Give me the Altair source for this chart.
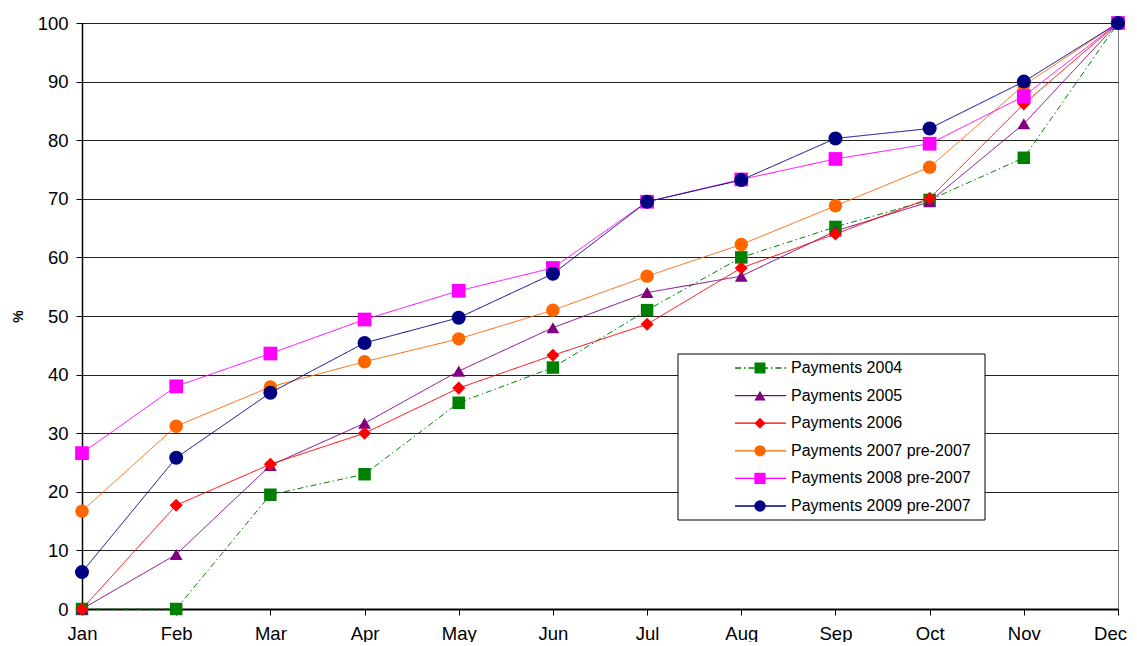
import altair as alt
import pandas as pd

months = ["Jan", "Feb", "Mar", "Apr", "May", "Jun", "Jul", "Aug", "Sep", "Oct", "Nov", "Dec"]
series = ["Payments 2004", "Payments 2005", "Payments 2006",
          "Payments 2007 pre-2007", "Payments 2008 pre-2007", "Payments 2009 pre-2007"]

p2004 = [0, 0, 19.5, 23.0, 35.2, 41.2, 51.0, 60.0, 65.2, 69.8, 77.0, 100]
p2005 = [0, 9.3, 24.5, 31.7, 40.6, 48.0, 54.0, 56.8, 64.5, 69.5, 82.8, 100]
p2006 = [0, 17.7, 24.7, 30.0, 37.7, 43.3, 48.6, 58.2, 64.0, 70.1, 86.2, 100]
p2007 = [16.7, 31.2, 37.9, 42.2, 46.1, 51.0, 56.8, 62.2, 68.8, 75.4, 89.4, 100]
p2008 = [26.6, 38.0, 43.6, 49.4, 54.3, 58.2, 69.5, 73.3, 76.8, 79.4, 87.5, 100]
p2009 = [6.3, 25.8, 36.9, 45.4, 49.7, 57.2, 69.5, 73.2, 80.3, 82.0, 90.0, 100]

colors = ["#008000", "#800080", "#FF0000", "#FF6600", "#FF00FF", "#000080"]
shapes = ["square", "triangle-up", "diamond", "circle", "square", "circle"]
dashes = [[6, 3, 1.5, 3], [1, 0], [1, 0], [1, 0], [1, 0], [1, 0]]
marker_sizes = [156, 196, 170, 225, 144, 150]
legend_sizes = [121, 128, 150, 144, 121, 121]

all_values = [p2004, p2005, p2006, p2007, p2008, p2009]
rows = []
for s, vals in zip(series, all_values):
    for i, (m, v) in enumerate(zip(months, vals)):
        rows.append({"series": s, "month": m, "midx": i, "value": v})
df = pd.DataFrame(rows)
leg_df = pd.DataFrame({"series": series})
box_df = pd.DataFrame({"k": [0]})

FONT = "Liberation Sans"

color_scale = alt.Scale(domain=series, range=colors)
shape_scale = alt.Scale(domain=series, range=shapes)
dash_scale = alt.Scale(domain=series, range=dashes)

last_month_test = "datum.label === '%s'" % months[-1]

x_enc = alt.X("month:O", sort=months,
              scale=alt.Scale(type="point", padding=0),
              axis=alt.Axis(title=None, labelAngle=0, tickSize=6, labelPadding=9,
                            grid=False, domainWidth=2,
                            labelOffset={"condition": {"test": last_month_test, "value": -8},
                                         "value": 0}))
y_enc = alt.Y("value:Q", scale=alt.Scale(domain=[0, 100], nice=False),
              axis=alt.Axis(values=list(range(0, 101, 10)), title="%",
                            titleFont=FONT, titleFontSize=14, titleFontWeight="bold",
                            titlePadding=12, tickSize=6, labelPadding=8,
                            grid=True, domainWidth=1.5))

lines = alt.Chart(df).mark_line(strokeWidth=1).encode(
    x=x_enc, y=y_enc,
    color=alt.Color("series:N", scale=color_scale, legend=None),
    strokeDash=alt.StrokeDash("series:N", scale=dash_scale, legend=None),
    order=alt.Order("midx:Q"),
)

points = alt.Chart(df).mark_point(filled=True, opacity=1).encode(
    x=x_enc, y=alt.Y("value:Q", scale=alt.Scale(domain=[0, 100], nice=False)),
    color=alt.Color("series:N", scale=color_scale, legend=None),
    shape=alt.Shape("series:N", scale=shape_scale, legend=None),
    size=alt.Size("series:N", scale=alt.Scale(domain=series, range=marker_sizes), legend=None),
)

main = alt.layer(lines, points)

leg_y = alt.Y("series:N", sort=series,
              scale=alt.Scale(type="point", range=[345, 483], padding=0), axis=None)

box = alt.Chart(box_df).mark_rect(fill="white", stroke="black", strokeWidth=1).encode(
    x=alt.value(596), x2=alt.value(903), y=alt.value(331), y2=alt.value(497))

leg_lines = alt.Chart(leg_df).mark_rule(strokeWidth=1.3).encode(
    x=alt.value(653), x2=alt.value(704), y=leg_y,
    color=alt.Color("series:N", scale=color_scale, legend=None),
    strokeDash=alt.StrokeDash("series:N", scale=dash_scale, legend=None),
)

leg_points = alt.Chart(leg_df).mark_point(filled=True, opacity=1).encode(
    x=alt.value(678), y=leg_y,
    color=alt.Color("series:N", scale=color_scale, legend=None),
    shape=alt.Shape("series:N", scale=shape_scale, legend=None),
    size=alt.Size("series:N", scale=alt.Scale(domain=series, range=legend_sizes), legend=None),
)

leg_text = alt.Chart(leg_df).mark_text(align="left", baseline="middle", fontSize=16,
                                       font=FONT, color="black").encode(
    x=alt.value(709), y=leg_y, text="series:N")

legend = alt.layer(box, leg_lines, leg_points, leg_text)

chart = alt.layer(main, legend).resolve_scale(
    y="independent", size="independent"
).properties(
    width=1036, height=586,
    padding={"left": 74, "top": 15, "right": 11, "bottom": 33},
    autosize=alt.AutoSizeParams(type="none"),
).configure_view(
    stroke="#808080", strokeWidth=1
).configure_axis(
    labelFont=FONT, labelFontSize=18.5, labelColor="black",
    domainColor="black", tickColor="black", gridColor="#222222", gridWidth=1,
    titleColor="black"
)

chart.save("out.html", embed_options={"renderer": "svg", "actions": False})
